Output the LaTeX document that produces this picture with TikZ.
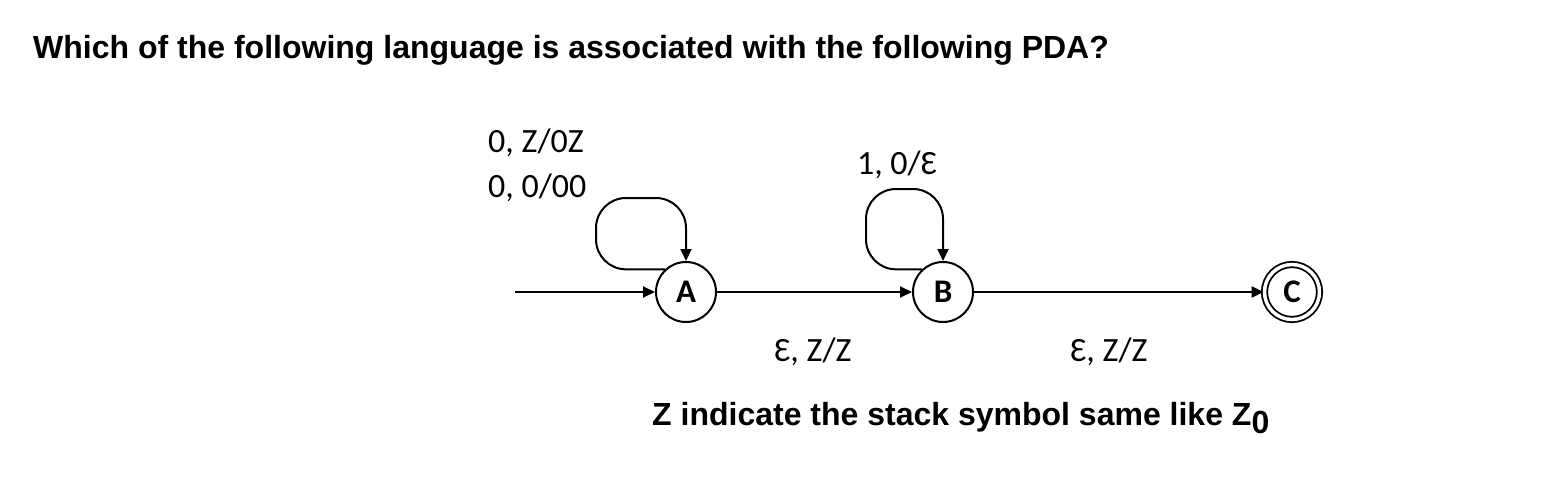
\documentclass[tikz,border=0pt]{standalone}
\usepackage{fontspec}
\setmainfont{Liberation Sans}
\newfontfamily\lblfont{Carlito}
\usetikzlibrary{arrows.meta}
\tikzset{
  state/.style={circle, draw, line width=2pt, minimum size=60pt, inner sep=0pt, font=\lblfont\fontsize{33}{36}\selectfont\bfseries},
  accstate/.style={state, double, double distance=3.5pt, line width=1.8pt, minimum size=55pt},
  edge/.style={line width=2pt, -{Triangle[length=12pt,width=11pt]}},
  lbl/.style={font=\lblfont\fontsize{34}{44}\selectfont, inner sep=0pt, align=left},
  txt/.style={font=\fontsize{32}{36}\selectfont\bfseries, inner sep=0pt}
}
\begin{document}
\begin{tikzpicture}[x=1pt,y=-1pt]
\useasboundingbox (0,0) rectangle (1556,484);
\node[txt, anchor=base west] (title) at (33,59) {Which of the following language is associated with the following PDA?};
\node[state] (A) at (686,292) {A};
\node[state] (B) at (943,292) {B};
\node[accstate] (C) at (1292,292) {C};
\coordinate (start) at (515,292);
\coordinate (la) at (596,198);
\coordinate (lb) at (866,189);
\draw[edge] (start) -- (A);
\draw[edge] (A) -- (B);
\draw[edge] (B) -- (C);
\draw[edge, rounded corners=30pt] (A.133) -| (la) -| (A.north);
\draw[edge, rounded corners=30pt] (B.133) -| (lb) -| (B.north);
\node[lbl, anchor=base west] (l1) at (488,153) {0, Z/0Z};
\node[lbl, anchor=base west] (l2) at (488,197) {0, 0/00};
\node[lbl, anchor=base] (l3) at (897,175) {1, 0/Ɛ};
\node[lbl, anchor=base] (l4) at (813,361) {Ɛ, Z/Z};
\node[lbl, anchor=base] (l5) at (1109,361) {Ɛ, Z/Z};
\node[txt, anchor=base west] (note) at (652,425) {Z indicate the stack symbol same like Z\raisebox{-0.25em}{0}};
\end{tikzpicture}
\end{document}
